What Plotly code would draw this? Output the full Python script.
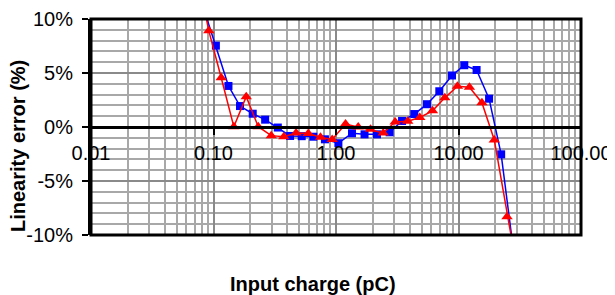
import plotly.graph_objects as go

# Input charge (pC) and linearity error (%) for the two series
blue_x = [0.0835, 0.1046, 0.1325, 0.1646, 0.209, 0.264, 0.335, 0.422, 0.525, 0.653, 0.812,
          1.046, 1.35, 1.71, 2.16, 2.74, 3.46, 4.36, 5.53, 6.97, 8.85, 11.15, 14.05, 17.76, 22.3, 28.0]
blue_y = [10.9, 7.53, 3.80, 1.94, 1.23, 0.68, -0.05, -0.83, -0.85, -0.9, -1.14,
          -1.5, -0.58, -0.68, -0.68, -0.49, 0.56, 1.2, 2.11, 3.31, 4.77, 5.72, 5.28, 2.62, -2.53, -11.3]

red_x = [0.0725, 0.0915, 0.1156, 0.1465, 0.185, 0.232, 0.296, 0.375, 0.472, 0.594, 0.747, 0.931,
         1.196, 1.518, 1.913, 2.43, 3.04, 3.85, 4.83, 6.13, 7.73, 9.8, 12.28, 15.53, 19.6, 24.9, 31.5]
red_y = [14.6, 8.92, 4.56, 0.03, 2.81, 0.03, -0.8, -0.9, -0.55, -0.6, -0.95, -1.16,
         0.28, 0.0, -0.21, -0.55, 0.46, 0.54, 0.88, 1.5, 2.7, 3.77, 3.68, 2.25, -1.2, -8.3, -14.5]

y_ticks = [-10, -5, 0, 5, 10]
y_ticktext = ["-10%", "-5%", "0%", "5%", "10%"]
x_title = "Input charge (pC)"
y_title = "Linearity error (%)"

FONT = "Arial, Liberation Sans, sans-serif"

fig = go.Figure()
fig.add_trace(go.Scatter(
    x=blue_x, y=blue_y, mode="lines+markers",
    line=dict(color="#0000FF", width=1.5),
    marker=dict(symbol="square", size=8, color="#0000FF"),
    showlegend=False))
fig.add_trace(go.Scatter(
    x=red_x, y=red_y, mode="lines+markers",
    line=dict(color="#FF0000", width=1.5),
    marker=dict(symbol="triangle-up", size=10, color="#FF0000"),
    showlegend=False))

OFF = 8  # page body margin
W, H = 615 - OFF, 295 - OFF
L, R, T, B = 91 - OFF, 34, 19 - OFF, 60
PW, PH = W - L - R, H - T - B

fig.update_layout(
    width=W, height=H,
    margin=dict(l=L, r=R, t=T, b=B, autoexpand=False),
    paper_bgcolor="white", plot_bgcolor="white",
    font=dict(family=FONT, size=20, color="black"),
    xaxis=dict(
        type="log", range=[-2, 2], dtick=1, tickformat=".2f",
        anchor="free", position=0.5, automargin=False,
        showline=True, linecolor="black", linewidth=3,
        ticks="outside", ticklen=6, tickwidth=2, tickcolor="black",
        ticklabelstandoff=1,
        showgrid=True, gridcolor="#8a8a8a", gridwidth=2,
        minor=dict(showgrid=True, gridcolor="#a8a8a8", gridwidth=1.5, dtick="D1"),
        zeroline=False,
        tickfont=dict(size=20),
    ),
    yaxis=dict(
        range=[-10, 10], tickvals=y_ticks, ticktext=y_ticktext, automargin=False,
        showline=True, linecolor="black", linewidth=3,
        ticks="outside", ticklen=6, tickwidth=2, tickcolor="black",
        ticklabelstandoff=5,
        showgrid=True, gridcolor="#8a8a8a", gridwidth=2,
        minor=dict(showgrid=True, gridcolor="#a8a8a8", gridwidth=1.5, dtick=1),
        zeroline=True, zerolinecolor="black", zerolinewidth=3,
        tickfont=dict(size=20),
    ),
    shapes=[dict(type="rect", xref="paper", yref="paper", x0=0, x1=1, y0=0, y1=1,
                 line=dict(color="black", width=3), layer="above")],
    annotations=[
        dict(text="<b>" + x_title + "</b>", xref="paper", yref="paper",
             x=(313 - 91) / PW, y=-(284 - 235) / PH,
             showarrow=False, xanchor="center", yanchor="middle",
             font=dict(size=20, family=FONT)),
        dict(text="<b>" + y_title + "</b>", xref="paper", yref="paper",
             x=-(91 - 18) / PW, y=(235 - 146) / PH,
             showarrow=False, xanchor="center", yanchor="middle", textangle=-90,
             font=dict(size=20, family=FONT)),
    ],
)

fig.write_html("out.html")
